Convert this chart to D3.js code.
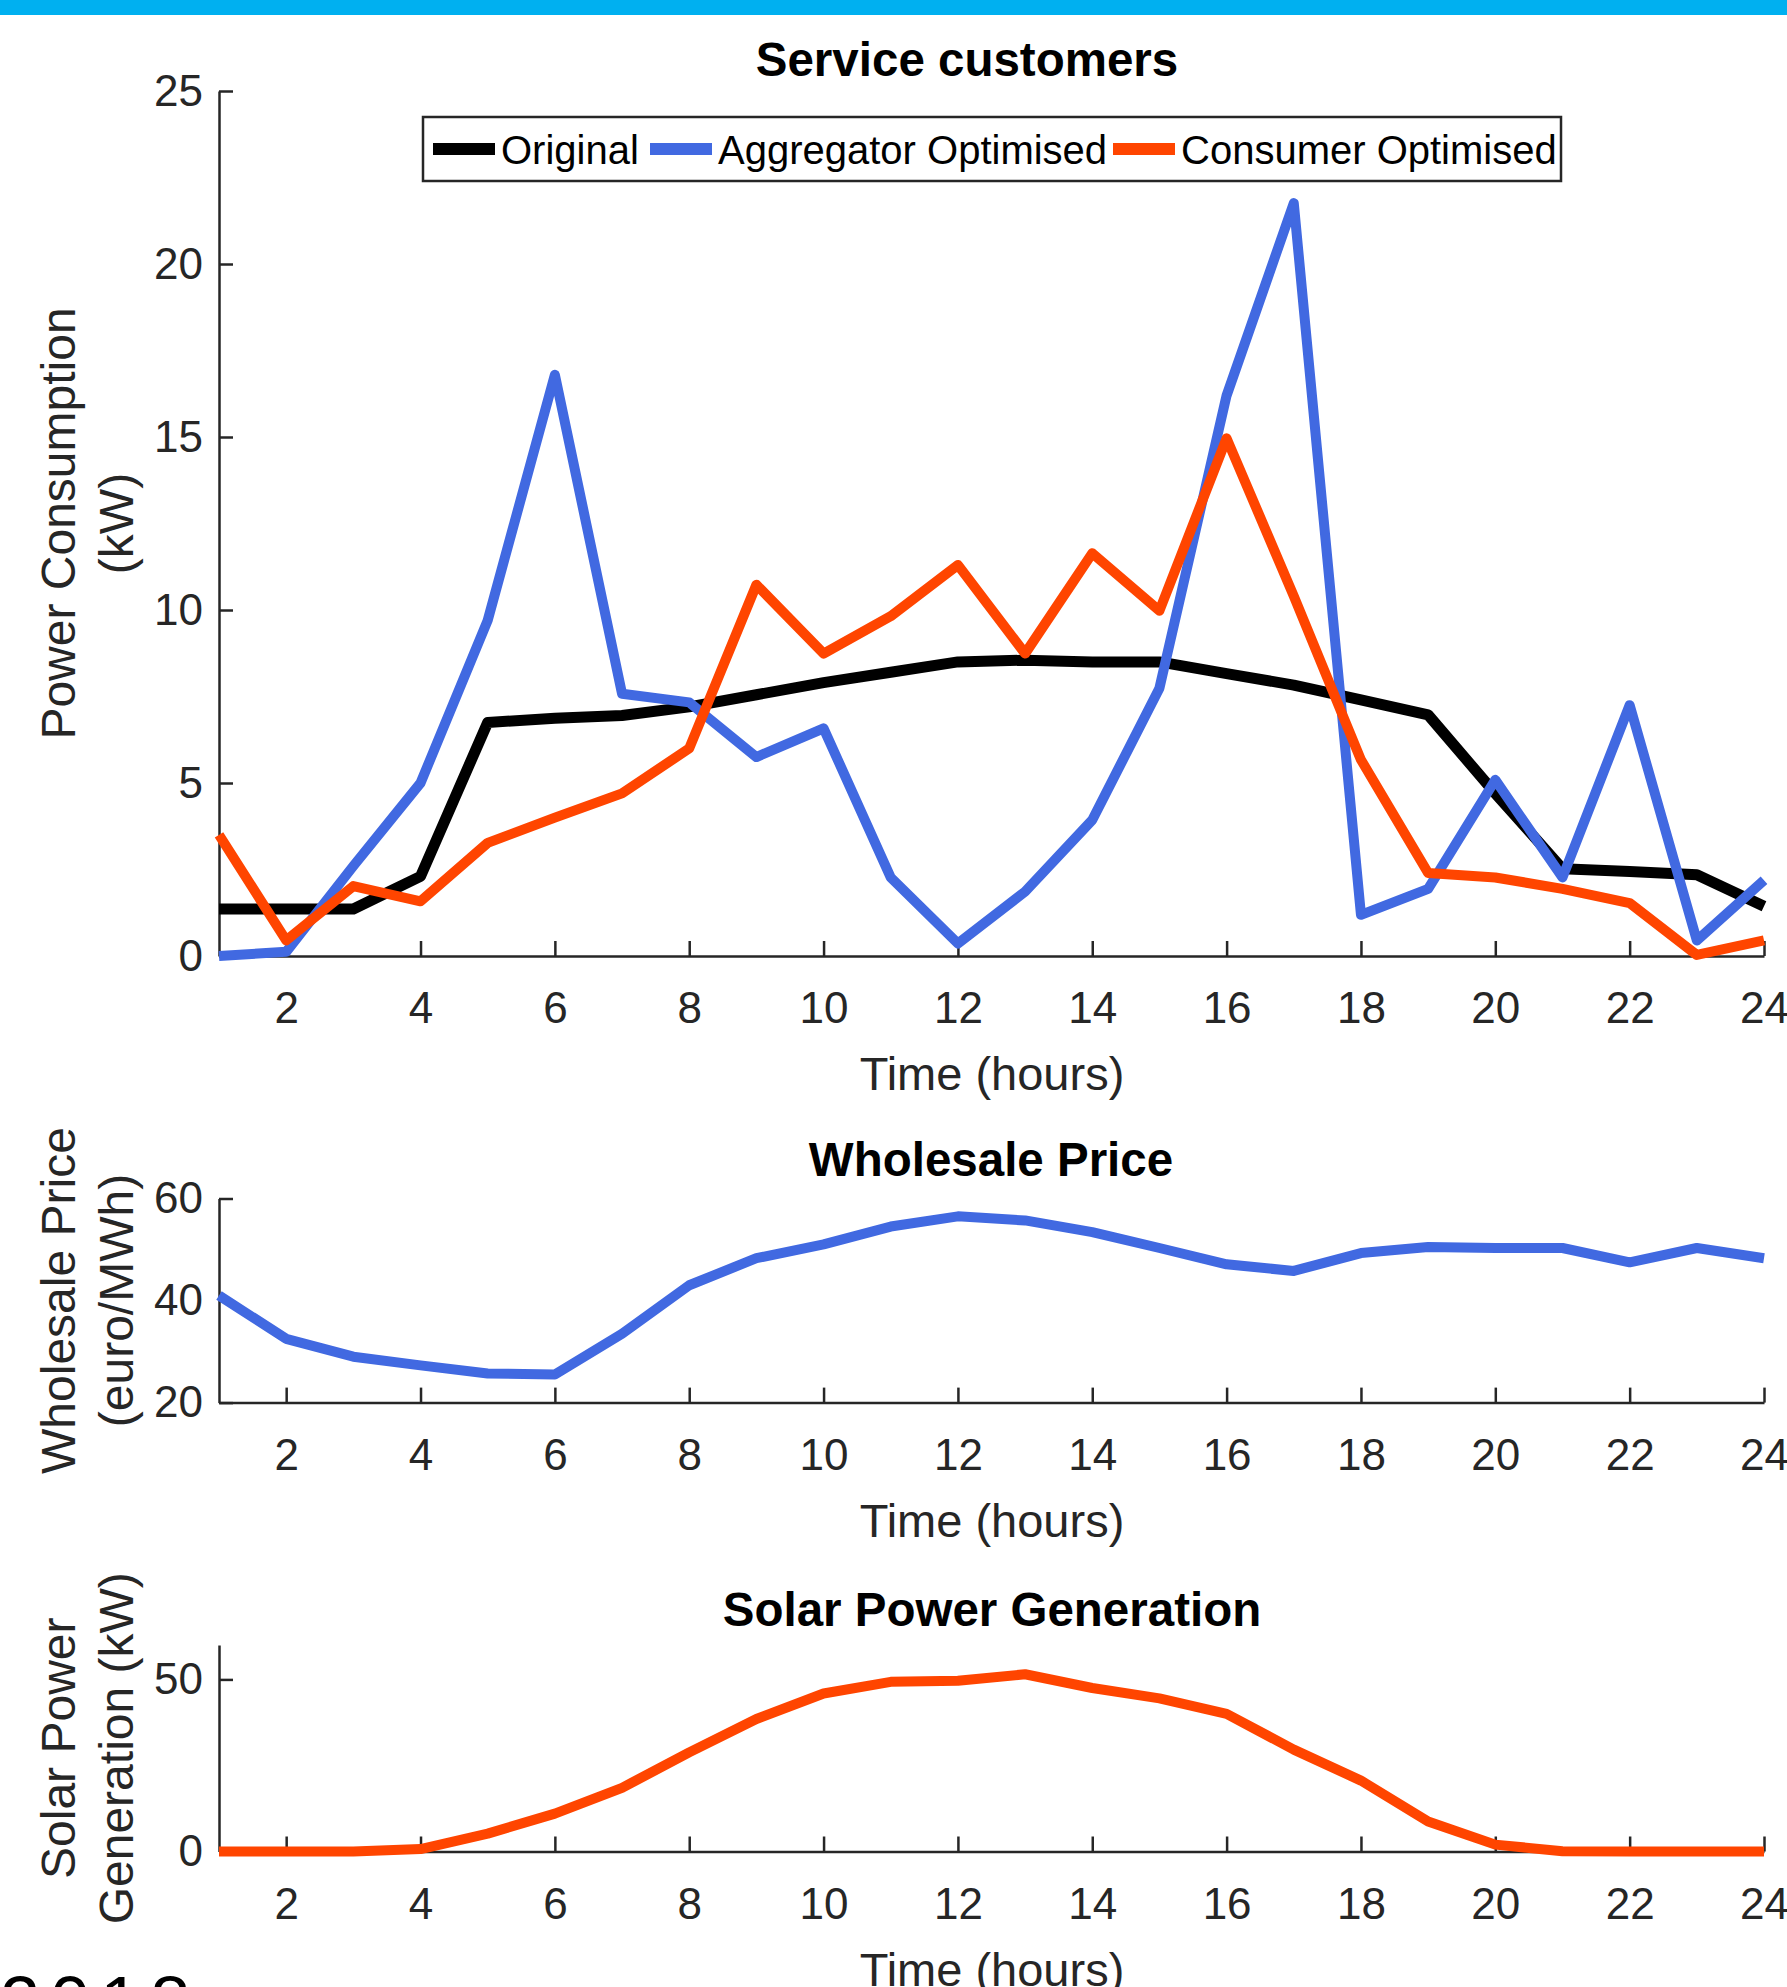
<!DOCTYPE html>
<html>
<head>
<meta charset="utf-8">
<script src="https://cdn.jsdelivr.net/npm/d3@7"></script>
<style>
  body { margin: 0; background: #fff; }
  svg { display: block; font-family: "Liberation Sans", Arial, sans-serif; }
  .axis path, .axis line { stroke: #262626; stroke-width: 2.5; }
  .axis text { font-size: 44px; fill: #262626; font-family: "Liberation Sans", Arial, sans-serif; }
</style>
</head>
<body>
<svg id="chart" width="1787" height="1987"></svg>
<script>
// hourly data
var hours = [1,2,3,4,5,6,7,8,9,10,11,12,13,14,15,16,17,18,19,20,21,22,23,24];
var xTicks = [2,4,6,8,10,12,14,16,18,20,22,24];

var original   = [1.36,1.36,1.36,2.3,6.75,6.87,6.95,7.2,7.55,7.9,8.2,8.5,8.55,8.5,8.5,8.16,7.83,7.4,6.97,4.7,2.52,2.44,2.35,1.44];
var aggregator = [0,0.12,2.6,5.0,9.7,16.8,7.58,7.33,5.75,6.58,2.27,0.36,1.86,3.93,7.74,16.2,21.76,1.19,1.94,5.09,2.27,7.25,0.45,2.19];
var consumer   = [3.5,0.45,2.02,1.58,3.27,4.0,4.7,6.0,10.73,8.74,9.82,11.3,8.74,11.64,9.98,14.96,10.4,5.67,2.4,2.27,1.94,1.53,0.03,0.45];

var price = [41,32.5,29,27.3,25.7,25.5,33.5,43,48.3,51,54.5,56.5,55.7,53.4,50.3,47.1,45.8,49.3,50.5,50.3,50.3,47.5,50.3,48.3];
var solar = [0,0,0,0.7,5.2,11,18.5,28.8,38.5,45.9,49.3,49.6,51.5,47.5,44.5,40,29.6,20.6,8.7,2,0.1,0,0,0];

var legendNames = ["Original", "Aggregator Optimised", "Consumer Optimised"];
var colors = ["#000000", "#4169E1", "#FF4500"];

var svg = d3.select("#chart");

// top band
svg.append("rect").attr("x", 0).attr("y", 0).attr("width", 1787).attr("height", 15).attr("fill", "#00B0F0");

var x = d3.scaleLinear().domain([1, 24]).range([219, 1764]);

var panels = [
    {title: "Service customers", titleX: 967, titleY: 76, domain: [0, 25], range: [956, 91],
     yTicks: [0,5,10,15,20,25], ylab: ["Power Consumption", "(kW)"],
     series: [original, aggregator, consumer], colors: colors, widths: [11, 10, 10]},
    {title: "Wholesale Price", titleX: 991, titleY: 1176, domain: [20, 60], range: [1402.6, 1198.5],
     yTicks: [20,40,60], ylab: ["Wholesale Price", "(euro/MWh)"],
     series: [price], colors: ["#4169E1"], widths: [10]},
    {title: "Solar Power Generation", titleX: 992, titleY: 1626, domain: [0, 60], range: [1851.5, 1645],
     yTicks: [0,50], ylab: ["Solar Power", "Generation (kW)"],
     series: [solar], colors: ["#FF4500"], widths: [10]}
];

panels.forEach(function(p){
    var y = d3.scaleLinear().domain(p.domain).range(p.range);
    var g = svg.append("g");

    g.append("g")
        .attr("class", "axis")
        .attr("transform", "translate(0," + p.range[0] + ")")
        .call(d3.axisBottom(x).tickValues(xTicks).tickSizeInner(-15).tickSizeOuter(0).tickPadding(36));

    g.append("g")
        .attr("class", "axis")
        .attr("transform", "translate(" + x(1) + ",0)")
        .call(d3.axisLeft(y).tickValues(p.yTicks).tickSizeInner(-14).tickSizeOuter(0).tickPadding(16));

    var line = d3.line()
        .x(function(d, i){ return x(hours[i]); })
        .y(function(d){ return y(d); });

    p.series.forEach(function(s, k){
        g.append("path")
            .datum(s)
            .attr("d", line)
            .attr("fill", "none")
            .attr("stroke", p.colors[k])
            .attr("stroke-width", p.widths[k])
            .attr("stroke-linejoin", "round");
    });

    g.append("text")
        .attr("x", p.titleX).attr("y", p.titleY)
        .attr("text-anchor", "middle")
        .attr("font-size", 47.5).attr("font-weight", "bold")
        .text(p.title);

    g.append("text")
        .attr("x", 992).attr("y", p.range[0] + 134)
        .attr("text-anchor", "middle")
        .attr("font-size", 47).attr("fill", "#262626")
        .text("Time (hours)");

    var cy = (p.range[0] + p.range[1]) / 2;
    p.ylab.forEach(function(t, k){
        g.append("text")
            .attr("transform", "translate(" + (75 + k * 58) + "," + cy + ") rotate(-90)")
            .attr("text-anchor", "middle")
            .attr("font-size", 48).attr("fill", "#262626")
            .text(t);
    });
});

// legend for the top panel
var leg = svg.append("g");
leg.append("rect")
    .attr("x", 423).attr("y", 117).attr("width", 1138).attr("height", 64)
    .attr("fill", "#fff").attr("stroke", "#262626").attr("stroke-width", 2.5);

var legX = [433, 650, 1113];
legendNames.forEach(function(n, i){
    leg.append("line")
        .attr("x1", legX[i]).attr("x2", legX[i] + 62)
        .attr("y1", 149).attr("y2", 149)
        .attr("stroke", colors[i]).attr("stroke-width", 12);
    leg.append("text")
        .attr("x", legX[i] + 68).attr("y", 164)
        .attr("font-size", 40).attr("fill", "#000")
        .text(n);
});

// clipped caption text at the bottom edge
svg.append("text")
    .attr("x", 0).attr("y", 2027)
    .attr("font-size", 72).attr("letter-spacing", 10).attr("fill", "#000")
    .text("2018");
</script>
</body>
</html>
